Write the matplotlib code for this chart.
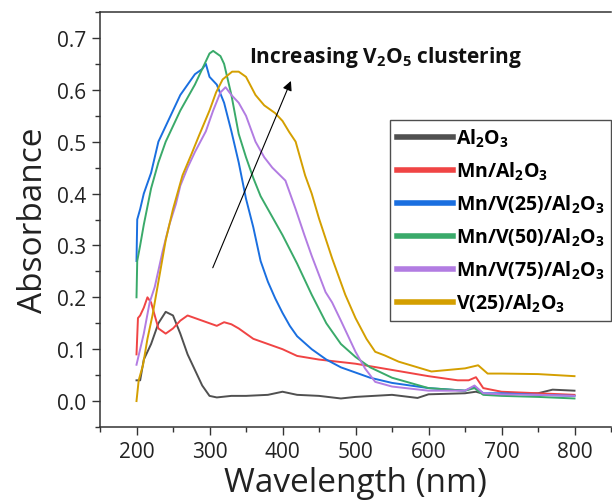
import matplotlib
matplotlib.use("Agg")
import matplotlib.pyplot as plt
from matplotlib.ticker import MultipleLocator

plt.rcParams['font.family'] = ['Open Sans', 'DejaVu Sans']
plt.rcParams['mathtext.default'] = 'regular'

# ---- data ----
al2o3_wl = [200, 205, 210, 220, 230, 240, 250, 260, 270, 280, 290, 300, 310, 330, 350,
            380, 400, 420, 450, 480, 500, 550, 585, 600, 650, 665, 680, 700, 750, 770, 800]
al2o3_abs = [0.04, 0.04, 0.08, 0.11, 0.15, 0.172, 0.165, 0.13, 0.09, 0.06, 0.03, 0.01, 0.007,
             0.01, 0.01, 0.012, 0.018, 0.012, 0.01, 0.005, 0.008, 0.012, 0.006, 0.013, 0.015,
             0.018, 0.012, 0.012, 0.015, 0.022, 0.02]

mn_wl = [200, 202, 205, 210, 215, 220, 225, 230, 240, 250, 260, 270, 280, 290, 300, 310, 320,
         330, 340, 350, 360, 380, 400, 420, 450, 500, 550, 600, 640, 655, 665, 675, 700, 750, 800]
mn_abs = [0.09, 0.16, 0.165, 0.18, 0.20, 0.19, 0.165, 0.14, 0.13, 0.14, 0.155, 0.165, 0.16,
          0.155, 0.15, 0.145, 0.152, 0.148, 0.14, 0.13, 0.12, 0.11, 0.10, 0.087, 0.08, 0.072,
          0.06, 0.048, 0.04, 0.04, 0.046, 0.025, 0.018, 0.015, 0.012]

v25_wl = [200, 201, 205, 210, 220, 230, 240, 250, 260, 270, 280, 290, 295, 300, 310, 320, 330,
          340, 350, 360, 370, 380, 390, 400, 410, 420, 440, 460, 480, 500, 520, 550, 600, 650,
          663, 675, 700, 750, 800]
v25_abs = [0.27, 0.35, 0.37, 0.40, 0.44, 0.50, 0.53, 0.56, 0.59, 0.61, 0.63, 0.64, 0.65, 0.625,
           0.61, 0.575, 0.52, 0.46, 0.39, 0.335, 0.27, 0.23, 0.198, 0.17, 0.145, 0.125, 0.10,
           0.08, 0.065, 0.055, 0.045, 0.035, 0.025, 0.02, 0.028, 0.015, 0.015, 0.012, 0.01]

v50_wl = [200, 201, 205, 210, 220, 230, 240, 250, 260, 270, 280, 290, 300, 305, 315, 320, 325,
          330, 340, 350, 360, 370, 380, 390, 400, 420, 440, 460, 480, 500, 520, 550, 600, 650,
          663, 675, 700, 750, 800]
v50_abs = [0.20, 0.27, 0.30, 0.34, 0.41, 0.46, 0.50, 0.53, 0.56, 0.585, 0.61, 0.64, 0.67, 0.675,
           0.665, 0.65, 0.62, 0.59, 0.515, 0.47, 0.43, 0.395, 0.37, 0.345, 0.32, 0.265, 0.205,
           0.15, 0.11, 0.085, 0.065, 0.045, 0.025, 0.02, 0.025, 0.012, 0.01, 0.008, 0.005]

v75_wl = [200, 205, 210, 218, 225, 236, 245, 254, 260, 270, 280, 295, 305, 315, 322, 330, 340,
          350, 363, 375, 386, 404, 418, 430, 440, 459, 468, 480, 490, 500, 513, 527, 550, 600,
          650, 663, 675, 700, 750, 800]
v75_abs = [0.07, 0.10, 0.13, 0.19, 0.22, 0.29, 0.34, 0.38, 0.415, 0.45, 0.48, 0.52, 0.56, 0.595,
           0.605, 0.59, 0.575, 0.55, 0.50, 0.47, 0.45, 0.425, 0.37, 0.32, 0.28, 0.21, 0.19,
           0.155, 0.125, 0.095, 0.063, 0.037, 0.028, 0.02, 0.02, 0.03, 0.015, 0.013, 0.012, 0.01]

vonly_wl = [200, 203, 209, 215, 222, 230, 240, 250, 263, 275, 286, 300, 309, 318, 331, 340, 350,
            363, 375, 390, 400, 409, 418, 431, 440, 450, 468, 486, 500, 515, 527, 540, 559, 604,
            650, 668, 681, 700, 750, 800]
vonly_abs = [0.0, 0.04, 0.07, 0.12, 0.166, 0.23, 0.31, 0.37, 0.435, 0.475, 0.513, 0.56, 0.595,
             0.62, 0.635, 0.635, 0.625, 0.59, 0.57, 0.555, 0.54, 0.519, 0.50, 0.435, 0.40, 0.352,
             0.275, 0.205, 0.16, 0.12, 0.095, 0.088, 0.076, 0.057, 0.063, 0.069, 0.053, 0.053,
             0.052, 0.048]

labels = ['Al$_2$O$_3$', 'Mn/Al$_2$O$_3$', 'Mn/V(25)/Al$_2$O$_3$', 'Mn/V(50)/Al$_2$O$_3$',
          'Mn/V(75)/Al$_2$O$_3$', 'V(25)/Al$_2$O$_3$']
colors = ['#505050', '#f04444', '#1a6fe0', '#3aaa6a', '#b27ce2', '#d49f00']
series = [(al2o3_wl, al2o3_abs), (mn_wl, mn_abs), (v25_wl, v25_abs), (v50_wl, v50_abs),
          (v75_wl, v75_abs), (vonly_wl, vonly_abs)]

fig = plt.figure(figsize=(6.12, 5.02), dpi=100)
ax = fig.add_axes([100/612, 1-428/502, 511/612, 415/502])

for (x, y), c, lab in zip(series, colors, labels):
    ax.plot(x, y, color=c, lw=1.4, label=lab)

ax.set_xlim(150, 850)
ax.set_ylim(-0.05, 0.75)
ax.xaxis.set_minor_locator(MultipleLocator(50))
ax.yaxis.set_minor_locator(MultipleLocator(0.05))
ax.set_xticks(range(200, 801, 100))
ax.set_yticks([0.0, 0.1, 0.2, 0.3, 0.4, 0.5, 0.6, 0.7])
ax.set_yticklabels(['0.0', '0.1', '0.2', '0.3', '0.4', '0.5', '0.6', '0.7'])
ax.tick_params(which='major', direction='out', length=6, width=1, labelsize=15,
               colors='#333333', labelcolor='#222222', pad=4)
ax.tick_params(which='minor', direction='out', length=3.5, width=1, colors='#333333')
ax.tick_params(top=False, right=False, which='both')
for s in ['left', 'bottom', 'top']:
    ax.spines[s].set_color('#333333')
    ax.spines[s].set_linewidth(1.1)
ax.spines['right'].set_visible(False)

ax.set_xlabel('Wavelength (nm)', fontsize=24, color='#222222', labelpad=3)
ax.set_ylabel('Absorbance', fontsize=24, color='#222222', labelpad=5)

leg = ax.legend(loc='upper left', bbox_to_anchor=(0.567, 0.74), borderaxespad=0,
                prop={'family': 'Open Sans', 'weight': 'bold', 'size': 14},
                handlelength=2.9, handletextpad=0.15, labelspacing=0.55,
                borderpad=0.35, frameon=True, fancybox=False)
leg.get_frame().set_edgecolor('#222222')
leg.get_frame().set_linewidth(1.0)
for h in leg.get_lines():
    h.set_linewidth(4)

ax.annotate('', xy=(413, 0.622), xytext=(303, 0.252),
            arrowprops=dict(arrowstyle='-|>', color='black', lw=0.8, mutation_scale=14))
ax.text(354, 0.664, 'Increasing V$_2$O$_5$ clustering', fontsize=15, fontweight='bold',
        va='center', ha='left', color='#111111')

fig.savefig('out.png', dpi=100)
